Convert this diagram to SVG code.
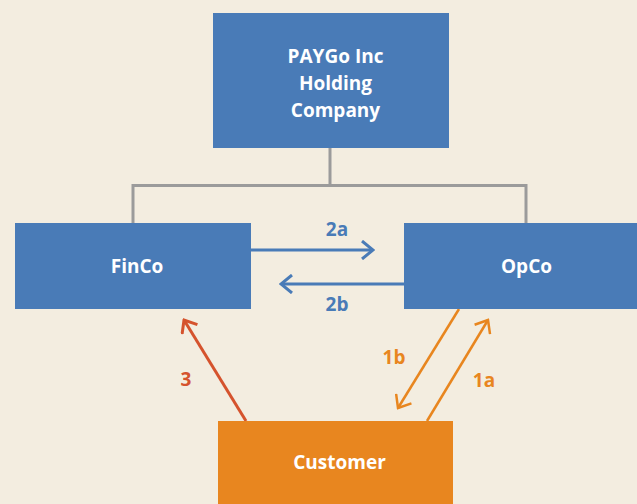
<svg xmlns="http://www.w3.org/2000/svg" width="637" height="504" viewBox="0 0 637 504">
<defs>
<style>
.box-blue{fill:#497bb7}
.box-orange{fill:#e8861f}
.t{font-family:"Open Sans",Lato,"Liberation Sans",sans-serif;font-weight:bold;font-size:19px;text-anchor:middle}
.w{fill:#ffffff}
.tree{fill:none;stroke:#9b9b9b;stroke-width:3}
.blue{stroke:#497bb7;fill:none;stroke-width:3}
.orange{stroke:#e8861f;fill:none;stroke-width:2.5}
.red{stroke:#d5532d;fill:none;stroke-width:3}
</style>
<marker id="mb" viewBox="0 0 14 20" refX="12" refY="10" markerWidth="14" markerHeight="20" markerUnits="userSpaceOnUse" orient="auto">
<path d="M1,1 L12,10 L1,19" fill="none" stroke="#497bb7" stroke-width="3"/>
</marker>
<marker id="mo" viewBox="0 0 14 20" refX="12" refY="10" markerWidth="14" markerHeight="20" markerUnits="userSpaceOnUse" orient="auto">
<path d="M1,1 L12,10 L1,19" fill="none" stroke="#e8861f" stroke-width="2.5"/>
</marker>
<marker id="mr" viewBox="0 0 14 20" refX="12" refY="10" markerWidth="14" markerHeight="20" markerUnits="userSpaceOnUse" orient="auto">
<path d="M1,1 L12,10 L1,19" fill="none" stroke="#d5532d" stroke-width="3"/>
</marker>
</defs>
<rect width="637" height="504" fill="#f3ede0"/>
<g id="connectors">
<path class="tree" d="M330,148 V185.5 M133,223 V185.5 H526 V223"/>
<line class="blue" x1="251" y1="250" x2="373" y2="250" marker-end="url(#mb)"/>
<line class="blue" x1="404" y1="284" x2="281" y2="284" marker-end="url(#mb)"/>
<line class="red" x1="246" y1="421" x2="184" y2="320" marker-end="url(#mr)"/>
<line class="orange" x1="459" y1="309" x2="398" y2="408" marker-end="url(#mo)"/>
<line class="orange" x1="427" y1="421" x2="488" y2="320" marker-end="url(#mo)"/>
<text class="t" x="337" y="236" fill="#497bb7">2a</text>
<text class="t" x="337" y="311" fill="#497bb7">2b</text>
<text class="t" x="186" y="386" fill="#d5532d">3</text>
<text class="t" x="394" y="364" fill="#e8861f">1b</text>
<text class="t" x="484" y="387" fill="#e8861f">1a</text>
</g>
<g id="holding">
<rect class="box-blue" x="213" y="13" width="236" height="135"/>
<text class="t w" x="335.5" y="63">PAYGo Inc</text>
<text class="t w" x="335.5" y="90">Holding</text>
<text class="t w" x="335.5" y="117">Company</text>
</g>
<g id="finco">
<rect class="box-blue" x="15" y="223" width="236" height="86"/>
<text class="t w" x="137" y="273">FinCo</text>
</g>
<g id="opco">
<rect class="box-blue" x="404" y="223" width="233" height="86"/>
<text class="t w" x="526.5" y="273">OpCo</text>
</g>
<g id="customer">
<rect class="box-orange" x="218" y="421" width="235" height="83"/>
<text class="t w" x="339.5" y="469">Customer</text>
</g>
</svg>
